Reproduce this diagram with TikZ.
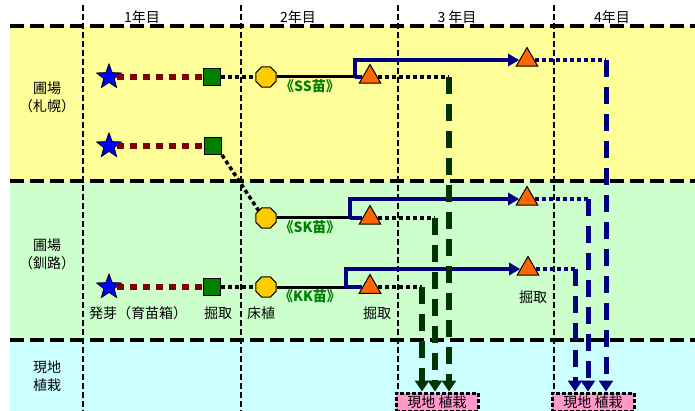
\documentclass[tikz,border=0pt]{standalone}
\usepackage{fontspec}
\newfontfamily\jpfont{Noto Sans CJK JP}
\usetikzlibrary{shapes.geometric,arrows.meta}
\definecolor{bandyellow}{HTML}{FFFF99}
\definecolor{bandgreen}{HTML}{CCFFCC}
\definecolor{bandcyan}{HTML}{CCFFFF}
\definecolor{starblue}{HTML}{0000FF}
\definecolor{boxgreen}{HTML}{008000}
\definecolor{octyellow}{HTML}{FFCC00}
\definecolor{triorange}{HTML}{FF6600}
\definecolor{darkred}{HTML}{800000}
\definecolor{navy}{HTML}{000080}
\definecolor{darkgreen}{HTML}{003300}
\definecolor{labelgreen}{HTML}{008000}
\definecolor{plantpink}{HTML}{FF99CC}

\begin{document}
\begin{tikzpicture}[x=1pt,y=-1pt,font=\jpfont\fontsize{14}{16}\selectfont,
  star node/.style={star,star points=5,star point ratio=2.4,fill=starblue,draw,line width=0.8pt,minimum size=26pt,inner sep=0pt},
  box node/.style={rectangle,fill=boxgreen,draw,line width=1pt,minimum size=17pt,inner sep=0pt},
  oct node/.style={regular polygon,regular polygon sides=8,fill=octyellow,draw,line width=1pt,minimum size=22pt,inner sep=0pt},
  tri node/.style={regular polygon,regular polygon sides=3,fill=triorange,draw,line width=1pt,minimum size=25pt,inner sep=0pt},
  plant node/.style={rectangle,fill=plantpink,draw,line width=3pt,dash pattern=on 4pt off 2pt,minimum width=82pt,minimum height=18pt,inner sep=0pt},
  seedling/.style={text=labelgreen,font=\jpfont\fontsize{14}{16}\selectfont\bfseries},
  region/.style={align=center,font=\jpfont\fontsize{14}{18}\selectfont},
  grow line/.style={darkred,line width=5.5pt,dash pattern=on 7pt off 6pt},
  dig line/.style={line width=3.5pt,dash pattern=on 4pt off 3pt},
  bed line/.style={line width=3pt},
  move line/.style={navy,line width=3.5pt,-{Triangle[length=11pt,width=12pt]}},
  wait line/.style={navy,line width=3.5pt,dash pattern=on 4pt off 3pt},
  ship green/.style={darkgreen,line width=5.5pt,dash pattern=on 17pt off 10pt,-{Triangle[length=11pt,width=14pt]}},
  ship blue/.style={navy,line width=5pt,dash pattern=on 17pt off 10pt,-{Triangle[length=11pt,width=14pt]}},
  grid h/.style={line width=3.5pt,dash pattern=on 14pt off 6pt},
  grid v/.style={line width=2pt,dash pattern=on 6pt off 3pt}]

% bands
\useasboundingbox (0,0) rectangle (695,411);
\fill[bandyellow] (10,26) rectangle (695,181);
\fill[bandgreen] (10,181) rectangle (695,340);
\fill[bandcyan] (10,340) rectangle (695,411);
\draw[grid h] (10,26) -- (695,26);
\draw[grid h] (10,181) -- (695,181);
\draw[grid h] (10,340) -- (695,340);
\foreach \x in {83,241,398,554}
  \draw[grid v] (\x,5) -- (\x,411);

% headings
\node (y1) at (142,17) {1年目};
\node (y2) at (298,17) {2年目};
\node (y3) at (457,17) {3 年目};
\node (y4) at (612,17) {4年目};
\node[region] (r1) at (47,97) {圃場\\（札幌）};
\node[region] (r2) at (47,254) {圃場\\（釧路）};
\node[region] (r3) at (47,376) {現地\\植栽};

% nodes
\node[star node] (s1) at (109,77) {};
\node[star node] (s2) at (109,146) {};
\node[star node] (s3) at (109,287) {};
\node[box node] (b1) at (212,77) {};
\node[box node] (b2) at (213,146) {};
\node[box node] (b3) at (212,287) {};
\node[oct node] (o1) at (266,77) {};
\node[oct node] (o2) at (266,218) {};
\node[oct node] (o3) at (266,287) {};
\node[tri node] (t1) at (370,77) {};
\node[tri node] (t2) at (370,218) {};
\node[tri node] (t3) at (370,287) {};
\node[tri node] (u1) at (527,60) {};
\node[tri node] (u2) at (527,199) {};
\node[tri node] (u3) at (528,269) {};
\node[plant node] (g1) at (437,402) {現地 植栽};
\node[plant node] (g2) at (593,402) {現地 植栽};

\coordinate (c1) at (355,77);
\coordinate (c2) at (350,218);
\coordinate (c3) at (346,287);
\coordinate (d1) at (449,77);
\coordinate (d2) at (435,218);
\coordinate (d3) at (422,287);
\coordinate (e1) at (606,60);
\coordinate (e2) at (588,199);
\coordinate (e3) at (575,269);

% labels
\node[seedling] (l1) at (310,86) {《SS苗》};
\node[seedling] (l2) at (310,227) {《SK苗》};
\node[seedling] (l3) at (310,296) {《KK苗》};
\node (k1) at (138,313) {発芽（育苗箱）};
\node (k2) at (218,313) {掘取};
\node (k3) at (261,313) {床植};
\node (k4) at (377,313) {掘取};
\node (k5) at (533,297) {掘取};

% connectors
\path[grow line]
  (s1) edge (b1)
  (s2) edge (b2)
  (s3) edge (b3);
\path[dig line]
  (b1) edge (o1)
  (b3) edge (o3)
  (b2.south east) edge (o2.north west)
  (t1.east) edge (d1)
  (t2.east) edge (d2)
  (t3.east) edge (d3);
\path[bed line]
  (o1) edge (c1)
  (o2) edge (c2)
  (o3) edge (c3);
\draw[navy,line width=3.5pt] (c1) -- (t1.west);
\draw[navy,line width=3.5pt] (c2) -- (t2.west);
\draw[navy,line width=3.5pt] (c3) -- (t3.west);
\draw[move line] (c1) |- (u1.west);
\draw[move line] (c2) |- (u2.west);
\draw[move line] (c3) |- (u3.west);
\path[wait line]
  (u1.east) edge (e1)
  (u2.east) edge (e2)
  (u3.east) edge (e3);
\draw[ship green] (d1) -- (d1 |- g1.north);
\draw[ship green] (d2) -- (d2 |- g1.north);
\draw[ship green] (d3) -- (d3 |- g1.north);
\draw[ship blue] (e1) -- (e1 |- g2.north);
\draw[ship blue] (e2) -- (e2 |- g2.north);
\draw[ship blue] (e3) -- (e3 |- g2.north);
\end{tikzpicture}
\end{document}
